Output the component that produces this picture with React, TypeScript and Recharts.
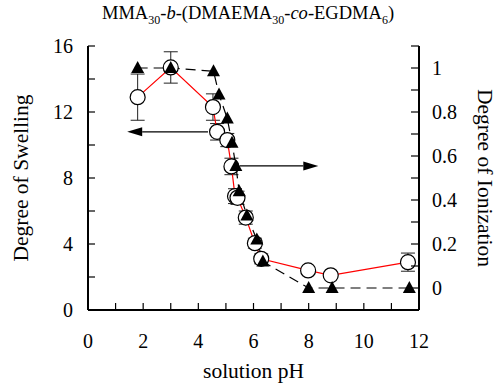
import { ComposedChart, Line, XAxis, YAxis, ErrorBar, ReferenceLine } from 'recharts'

// degree of swelling (open circles, left axis)
const swellPh = [1.8, 3.0, 4.53, 4.68, 5.05, 5.2, 5.33, 5.42, 5.72, 6.05, 6.28, 7.98, 8.8, 11.6]
const swelling = [12.9, 14.7, 12.3, 10.8, 10.3, 8.7, 6.9, 6.8, 5.6, 4.05, 3.1, 2.4, 2.1, 2.9]
const swellErr = [1.4, 0.95, 0.8, 0.5, 0.4, 0.5, 0.45, 0.4, 0.4, 0.3, 0.3, 0.1, 0.1, 0.55]

// degree of ionization (filled triangles, right axis)
const ionPh = [1.8, 3.0, 4.55, 4.75, 5.05, 5.22, 5.36, 5.48, 5.76, 6.12, 6.34, 8.0, 8.85, 11.65]
const ionization = [1.0, 1.0, 0.985, 0.88, 0.77, 0.66, 0.555, 0.44, 0.33, 0.22, 0.12, 0.0, 0.0, 0.0]

const phTicks = [0, 1, 2, 3, 4, 5, 6, 7, 8, 9, 10, 11, 12]
const swellTicks = [0, 2, 4, 6, 8, 10, 12, 14, 16]
const ionTicks = [0, 0.1, 0.2, 0.3, 0.4, 0.5, 0.6, 0.7, 0.8, 0.9, 1.0, 1.1]

const swellData = swellPh.map((ph, i) => ({ ph, swelling: swelling[i], err: swellErr[i] }))
const ionData = ionPh.map((ph, i) => ({ ph, ionization: ionization[i] }))

const FONT = 'Liberation Serif'
const TICK_FS = 20
const LABEL_FS = 21.5

const BottomTick = (props: any) => {
  const { x, y, payload } = props
  const v = payload.value
  return (
    <g>
      <line x1={x} y1={y} x2={x} y2={y - 7} stroke="#000" strokeWidth={1.2} />
      {v % 2 === 0 && (
        <text x={x} y={y + 38} textAnchor="middle" fontSize={TICK_FS} fontFamily={FONT} fill="#000">
          {v}
        </text>
      )}
    </g>
  )
}

const TopTick = (props: any) => {
  const { x, y } = props
  return <line x1={x} y1={y} x2={x} y2={y + 7} stroke="#000" strokeWidth={1.2} />
}

const LeftTick = (props: any) => {
  const { x, y, payload } = props
  const v = payload.value
  return (
    <g>
      <line x1={x} y1={y} x2={x + 7} y2={y} stroke="#000" strokeWidth={1.2} />
      {v % 4 === 0 && (
        <text x={x - 15} y={y + 7} textAnchor="end" fontSize={TICK_FS} fontFamily={FONT} fill="#000">
          {v}
        </text>
      )}
    </g>
  )
}

const RightTick = (props: any) => {
  const { x, y, payload } = props
  const v = payload.value
  const tenth = Math.round(v * 10)
  return (
    <g>
      <line x1={x} y1={y} x2={x - 8} y2={y} stroke="#000" strokeWidth={1.2} />
      {tenth % 2 === 0 && tenth <= 10 && (
        <text x={x + 13} y={y + 7} textAnchor="start" fontSize={TICK_FS} fontFamily={FONT} fill="#000">
          {tenth === 10 ? '1' : tenth === 0 ? '0' : (tenth / 10).toFixed(1)}
        </text>
      )}
    </g>
  )
}

const CircleDot = (props: any) => {
  const { cx, cy, index } = props
  return <circle key={'c' + index} cx={cx} cy={cy} r={7.5} fill="#fff" stroke="#000" strokeWidth={1.2} />
}

const TriangleDot = (props: any) => {
  const { cx, cy, index } = props
  return (
    <polygon
      key={'t' + index}
      points={`${cx},${cy - 7} ${cx - 6.5},${cy + 5} ${cx + 6.5},${cy + 5}`}
      fill="#000"
    />
  )
}

const Arrow = (p: any) => {
  const { x1, y1, x2, y2 } = p
  const dir = x2 > x1 ? 1 : -1
  const len = 15
  const hw = 4.5
  return (
    <g>
      <line x1={x1} y1={y1} x2={x2 - dir * len} y2={y2} stroke="#000" strokeWidth={1.3} />
      <polygon points={`${x2},${y2} ${x2 - dir * len},${y2 - hw} ${x2 - dir * len},${y2 + hw}`} fill="#000" />
    </g>
  )
}

const frame = { stroke: '#000', strokeWidth: 2 }

export default function App() {
  return (
    <div style={{ position: 'absolute', left: 0, top: 0, width: 502, height: 385, background: '#fff', fontFamily: FONT }}>
      <div
        style={{
          position: 'absolute',
          top: 2,
          left: 0,
          width: 496,
          textAlign: 'center',
          fontSize: 18.5,
          lineHeight: '22px',
          color: '#000',
        }}
      >
        MMA<sub style={{ fontSize: 12 }}>30</sub>-<i>b</i>-(DMAEMA<sub style={{ fontSize: 12 }}>30</sub>-<i>co</i>-EGDMA
        <sub style={{ fontSize: 12 }}>6</sub>)
      </div>
      <ComposedChart width={502} height={385} margin={{ top: 46, right: 0, bottom: 0, left: 0 }}>
        <XAxis
          xAxisId="b"
          type="number"
          dataKey="ph"
          domain={[0, 12]}
          ticks={phTicks}
          interval={0}
          height={75}
          tickSize={0}
          tickMargin={0}
          tickLine={false}
          tick={BottomTick}
          axisLine={frame}
          label={{
            content: (p: any) => {
              const vb = p.viewBox
              return (
                <text x={vb.x + vb.width / 2} y={vb.y + 68} textAnchor="middle" fontSize={LABEL_FS} fontFamily={FONT} fill="#000">
                  solution pH
                </text>
              )
            },
          }}
        />
        <XAxis
          xAxisId="t"
          orientation="top"
          type="number"
          domain={[0, 12]}
          ticks={phTicks}
          interval={0}
          height={0}
          tickSize={0}
          tickMargin={0}
          tickLine={false}
          tick={TopTick}
          axisLine={frame}
        />
        <YAxis
          yAxisId="left"
          type="number"
          domain={[0, 16]}
          ticks={swellTicks}
          interval={0}
          width={88}
          tickSize={0}
          tickMargin={0}
          tickLine={false}
          tick={LeftTick}
          axisLine={frame}
          label={{
            content: (p: any) => {
              const vb = p.viewBox
              const cy = vb.y + vb.height / 2
              return (
                <text x={28} y={cy} transform={`rotate(-90, 28, ${cy})`} textAnchor="middle" fontSize={LABEL_FS} fontFamily={FONT} fill="#000">
                  Degree of Swelling
                </text>
              )
            },
          }}
        />
        <YAxis
          yAxisId="right"
          orientation="right"
          type="number"
          domain={[-0.1, 1.1]}
          ticks={ionTicks}
          interval={0}
          width={83}
          tickSize={0}
          tickMargin={0}
          tickLine={false}
          tick={RightTick}
          axisLine={frame}
          label={{
            content: (p: any) => {
              const vb = p.viewBox
              const cy = vb.y + vb.height / 2
              return (
                <text x={478} y={cy} transform={`rotate(90, 478, ${cy})`} textAnchor="middle" fontSize={LABEL_FS} fontFamily={FONT} fill="#000">
                  Degree of Ionization
                </text>
              )
            },
          }}
        />
        <Line
          xAxisId="b"
          yAxisId="left"
          data={swellData}
          dataKey="swelling"
          stroke="#ff0000"
          strokeWidth={1.2}
          dot={CircleDot}
          activeDot={false}
          isAnimationActive={false}
        >
          <ErrorBar dataKey="err" direction="y" width={7} stroke="#222" strokeWidth={1} />
        </Line>
        <Line
          xAxisId="b"
          yAxisId="right"
          data={ionData}
          dataKey="ionization"
          stroke="#000"
          strokeWidth={1.2}
          strokeDasharray="10 6"
          dot={TriangleDot}
          activeDot={false}
          isAnimationActive={false}
        />
        <ReferenceLine
          xAxisId="b"
          yAxisId="left"
          segment={[
            { x: 4.35, y: 10.8 },
            { x: 1.42, y: 10.8 },
          ]}
          shape={Arrow}
        />
        <ReferenceLine
          xAxisId="b"
          yAxisId="right"
          segment={[
            { x: 5.5, y: 0.555 },
            { x: 8.35, y: 0.555 },
          ]}
          shape={Arrow}
        />
      </ComposedChart>
    </div>
  )
}
